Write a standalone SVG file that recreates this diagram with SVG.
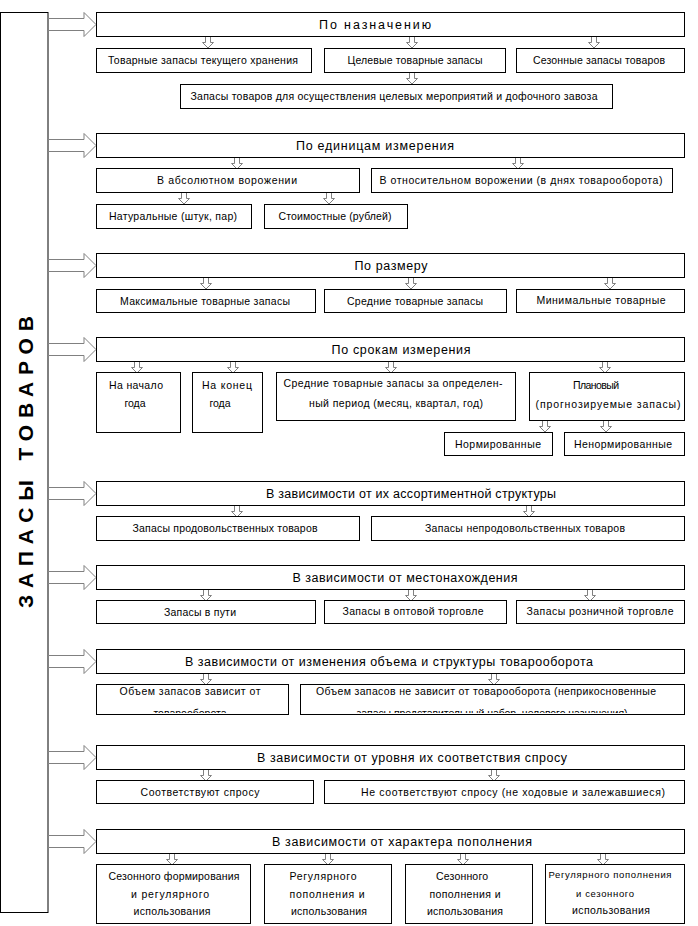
<svg xmlns="http://www.w3.org/2000/svg" width="698" height="926" viewBox="0 0 698 926">
<style>
.b{fill:#fff;stroke:#000;stroke-width:1}
.ar{fill:#fff;stroke:#808080;stroke-width:1}
text{font-family:"Liberation Sans",Arial,sans-serif;fill:#000;text-anchor:middle}
.h{font-size:12.5px}
.s{font-size:10.5px}
.t{font-size:9.5px}
.v{font-size:21px;font-weight:bold}
</style>
<defs>
<path id="big" d="M48.5,-6 H84 V-12 L96,0 L84,12 V6 H48.5 Z"/>
<path id="sm" d="M-2.5,0 V6 H-5.5 L0,11.5 L5.5,6 H2.5 V0 Z"/>
<clipPath id="c7a"><rect x="97" y="685" width="195" height="28"/></clipPath>
<clipPath id="c7b"><rect x="301" y="685" width="383" height="28"/></clipPath>
</defs>
<rect width="698" height="926" fill="#fff"/>

<g id="root">
<rect class="b" x="0.5" y="12.5" width="47.5" height="900"/>
<text class="v" transform="translate(33,462) rotate(-90)" textLength="292" lengthAdjust="spacing">ЗАПАСЫ ТОВАРОВ</text>
</g>

<g id="connectors">
<use href="#big" class="ar" transform="translate(0,24.5)"/>
<use href="#big" class="ar" transform="translate(0,145.5)"/>
<use href="#big" class="ar" transform="translate(0,265.5)"/>
<use href="#big" class="ar" transform="translate(0,349.5)"/>
<use href="#big" class="ar" transform="translate(0,493.5)"/>
<use href="#big" class="ar" transform="translate(0,577.5)"/>
<use href="#big" class="ar" transform="translate(0,661.5)"/>
<use href="#big" class="ar" transform="translate(0,757.5)"/>
<use href="#big" class="ar" transform="translate(0,841.5)"/>

<use href="#sm" class="ar" transform="translate(208,36.5)"/>
<use href="#sm" class="ar" transform="translate(412,36.5)"/>
<use href="#sm" class="ar" transform="translate(594,36.5)"/>
<use href="#sm" class="ar" transform="translate(412,72.5)"/>

<use href="#sm" class="ar" transform="translate(237,157.5)"/>
<use href="#sm" class="ar" transform="translate(518,157.5)"/>
<use href="#sm" class="ar" transform="translate(184,192.5)"/>
<use href="#sm" class="ar" transform="translate(329,192.5)"/>

<use href="#sm" class="ar" transform="translate(206,277.5)"/>
<use href="#sm" class="ar" transform="translate(411,277.5)"/>
<use href="#sm" class="ar" transform="translate(610,277.5)"/>

<use href="#sm" class="ar" transform="translate(137,361.5)"/>
<use href="#sm" class="ar" transform="translate(233,361.5)"/>
<use href="#sm" class="ar" transform="translate(391,361.5)"/>
<use href="#sm" class="ar" transform="translate(605,361.5)"/>
<use href="#sm" class="ar" transform="translate(545,420.5)"/>
<use href="#sm" class="ar" transform="translate(606,420.5)"/>

<use href="#sm" class="ar" transform="translate(237,505.5)"/>
<use href="#sm" class="ar" transform="translate(529,505.5)"/>

<use href="#sm" class="ar" transform="translate(206,589.5)"/>
<use href="#sm" class="ar" transform="translate(411,589.5)"/>
<use href="#sm" class="ar" transform="translate(590,589.5)"/>

<use href="#sm" class="ar" transform="translate(206,673.5)"/>
<use href="#sm" class="ar" transform="translate(494,673.5)"/>

<use href="#sm" class="ar" transform="translate(206,769.5)"/>
<use href="#sm" class="ar" transform="translate(494,769.5)"/>

<use href="#sm" class="ar" transform="translate(172,853.5)"/>
<use href="#sm" class="ar" transform="translate(328,853.5)"/>
<use href="#sm" class="ar" transform="translate(463,853.5)"/>
<use href="#sm" class="ar" transform="translate(603,853.5)"/>
</g>

<!-- Section 1 -->
<g id="h1"><rect class="b" x="96.5" y="12.5" width="588" height="24"/><text class="h" x="375" y="29" textLength="112" lengthAdjust="spacing">По назначению</text></g>
<g id="n1a"><rect class="b" x="96.5" y="48.5" width="215" height="24"/><text class="s" x="203" y="64" textLength="190" lengthAdjust="spacing">Товарные запасы текущего хранения</text></g>
<g id="n1b"><rect class="b" x="324.5" y="48.5" width="181" height="24"/><text class="s" x="415" y="64" textLength="135" lengthAdjust="spacing">Целевые товарные запасы</text></g>
<g id="n1c"><rect class="b" x="516.5" y="48.5" width="168" height="24"/><text class="s" x="599" y="64" textLength="132" lengthAdjust="spacing">Сезонные запасы товаров</text></g>
<g id="n1d"><rect class="b" x="180.5" y="84.5" width="432" height="24"/><text class="s" x="394" y="100" textLength="407" lengthAdjust="spacing">Запасы товаров для осуществления целевых мероприятий и дофочного завоза</text></g>

<!-- Section 2 -->
<g id="h2"><rect class="b" x="96.5" y="133.5" width="588" height="24"/><text class="h" x="375" y="150" textLength="158" lengthAdjust="spacing">По единицам измерения</text></g>
<g id="n2a"><rect class="b" x="96.5" y="168.5" width="263" height="24"/><text class="s" x="227" y="184" textLength="140" lengthAdjust="spacing">В абсолютном ворожении</text></g>
<g id="n2b"><rect class="b" x="371.5" y="168.5" width="301" height="24"/><text class="s" x="521" y="184" textLength="283" lengthAdjust="spacing">В относительном ворожении (в днях товарооборота)</text></g>
<g id="n2c"><rect class="b" x="96.5" y="204.5" width="155" height="24"/><text class="s" x="173" y="220" textLength="128" lengthAdjust="spacing">Натуральные (штук, пар)</text></g>
<g id="n2d"><rect class="b" x="264.5" y="204.5" width="143" height="24"/><text class="s" x="335" y="220" textLength="113" lengthAdjust="spacing">Стоимостные (рублей)</text></g>

<!-- Section 3 -->
<g id="h3"><rect class="b" x="96.5" y="253.5" width="588" height="24"/><text class="h" x="391" y="270" textLength="73" lengthAdjust="spacing">По размеру</text></g>
<g id="n3a"><rect class="b" x="96.5" y="289.5" width="219" height="23"/><text class="s" x="205" y="305" textLength="170" lengthAdjust="spacing">Максимальные товарные запасы</text></g>
<g id="n3b"><rect class="b" x="324.5" y="289.5" width="182" height="23"/><text class="s" x="415" y="305" textLength="136" lengthAdjust="spacing">Средние товарные запасы</text></g>
<g id="n3c"><rect class="b" x="516.5" y="289.5" width="168" height="23"/><text class="s" x="601" y="304" textLength="129" lengthAdjust="spacing">Минимальные товарные</text></g>

<!-- Section 4 -->
<g id="h4"><rect class="b" x="96.5" y="337.5" width="588" height="24"/><text class="h" x="401" y="354" textLength="139" lengthAdjust="spacing">По срокам измерения</text></g>
<g id="n4a"><rect class="b" x="96.5" y="372.5" width="84" height="60"/><text class="s" x="136" y="389" textLength="54" lengthAdjust="spacing">На начало</text><text class="s" x="135" y="407">года</text></g>
<g id="n4b"><rect class="b" x="192.5" y="372.5" width="70" height="60"/><text class="s" x="227" y="389" textLength="50" lengthAdjust="spacing">На конец</text><text class="s" x="220" y="407">года</text></g>
<g id="n4c"><rect class="b" x="276.5" y="372.5" width="239" height="48"/><text class="s" x="393" y="387" textLength="219" lengthAdjust="spacing">Средние товарные запасы за определен-</text><text class="s" x="396" y="407" textLength="174" lengthAdjust="spacing">ный период (месяц, квартал, год)</text></g>
<g id="n4d"><rect class="b" x="529.5" y="372.5" width="155" height="48"/><text class="s" x="596" y="389" textLength="46" lengthAdjust="spacing">Плановый</text><text class="s" x="608" y="408" textLength="145" lengthAdjust="spacing">(прогнозируемые запасы)</text></g>
<g id="n4e"><rect class="b" x="444.5" y="432.5" width="108" height="23"/><text class="s" x="498" y="448" textLength="86" lengthAdjust="spacing">Нормированные</text></g>
<g id="n4f"><rect class="b" x="564.5" y="432.5" width="120" height="23"/><text class="s" x="623" y="448" textLength="98" lengthAdjust="spacing">Ненормированные</text></g>

<!-- Section 5 -->
<g id="h5"><rect class="b" x="96.5" y="481.5" width="588" height="24"/><text class="h" x="411" y="498" textLength="290" lengthAdjust="spacing">В зависимости от их ассортиментной структуры</text></g>
<g id="n5a"><rect class="b" x="96.5" y="516.5" width="263" height="24"/><text class="s" x="225" y="532" textLength="185" lengthAdjust="spacing">Запасы продовольственных товаров</text></g>
<g id="n5b"><rect class="b" x="371.5" y="516.5" width="313" height="24"/><text class="s" x="525" y="532" textLength="200" lengthAdjust="spacing">Запасы непродовольственных товаров</text></g>

<!-- Section 6 -->
<g id="h6"><rect class="b" x="96.5" y="565.5" width="588" height="24"/><text class="h" x="405" y="582" textLength="225" lengthAdjust="spacing">В зависимости от местонахождения</text></g>
<g id="n6a"><rect class="b" x="96.5" y="600.5" width="219" height="23"/><text class="s" x="200" y="616" textLength="72" lengthAdjust="spacing">Запасы в пути</text></g>
<g id="n6b"><rect class="b" x="324.5" y="600.5" width="182" height="23"/><text class="s" x="413" y="615" textLength="141" lengthAdjust="spacing">Запасы в оптовой торговле</text></g>
<g id="n6c"><rect class="b" x="516.5" y="600.5" width="168" height="23"/><text class="s" x="600" y="615" textLength="147" lengthAdjust="spacing">Запасы розничной торговле</text></g>

<!-- Section 7 -->
<g id="h7"><rect class="b" x="96.5" y="649.5" width="588" height="24"/><text class="h" x="389" y="666" textLength="408" lengthAdjust="spacing">В зависимости от изменения объема и структуры товарооборота</text></g>
<g id="n7a"><rect class="b" x="96.5" y="684.5" width="192" height="30"/><text class="s" x="190" y="695" textLength="141" lengthAdjust="spacing">Объем запасов зависит от</text><text class="s" x="190" y="717" clip-path="url(#c7a)">товарооборота</text></g>
<g id="n7b"><rect class="b" x="300.5" y="684.5" width="384" height="30"/><text class="s" x="486" y="695" textLength="340" lengthAdjust="spacing">Объем запасов не зависит от товарооборота (неприкосновенные</text><text class="s" x="492" y="717" textLength="271" lengthAdjust="spacing" clip-path="url(#c7b)">запасы представительный набор, целевого назначения)</text></g>

<!-- Section 8 -->
<g id="h8"><rect class="b" x="96.5" y="745.5" width="588" height="24"/><text class="h" x="412" y="762" textLength="310" lengthAdjust="spacing">В зависимости от уровня их соответствия спросу</text></g>
<g id="n8a"><rect class="b" x="96.5" y="780.5" width="217" height="23"/><text class="s" x="200" y="796" textLength="119" lengthAdjust="spacing">Соответствуют спросу</text></g>
<g id="n8b"><rect class="b" x="324.5" y="780.5" width="360" height="23"/><text class="s" x="513" y="796" textLength="304" lengthAdjust="spacing">Не соответствуют спросу (не ходовые и залежавшиеся)</text></g>

<!-- Section 9 -->
<g id="h9"><rect class="b" x="96.5" y="829.5" width="588" height="24"/><text class="h" x="402" y="846" textLength="260" lengthAdjust="spacing">В зависимости от характера пополнения</text></g>
<g id="n9a"><rect class="b" x="96.5" y="864.5" width="154" height="59"/><text class="s" x="174" y="880" textLength="131" lengthAdjust="spacing">Сезонного формирования</text><text class="s" x="170" y="898" textLength="78" lengthAdjust="spacing">и регулярного</text><text class="s" x="172" y="915" textLength="77" lengthAdjust="spacing">использования</text></g>
<g id="n9b"><rect class="b" x="264.5" y="864.5" width="127" height="59"/><text class="s" x="323" y="880" textLength="67" lengthAdjust="spacing">Регулярного</text><text class="s" x="327" y="898" textLength="75" lengthAdjust="spacing">пополнения и</text><text class="s" x="329" y="915" textLength="76" lengthAdjust="spacing">использования</text></g>
<g id="n9c"><rect class="b" x="405.5" y="864.5" width="127" height="59"/><text class="s" x="462" y="880" textLength="52" lengthAdjust="spacing">Сезонного</text><text class="s" x="465" y="898" textLength="71" lengthAdjust="spacing">пополнения и</text><text class="s" x="465" y="915" textLength="76" lengthAdjust="spacing">использования</text></g>
<g id="n9d"><rect class="b" x="545.5" y="864.5" width="139" height="59"/><text class="t" x="610" y="878" textLength="123" lengthAdjust="spacing">Регулярного пополнения</text><text class="t" x="605" y="897" textLength="58" lengthAdjust="spacing">и сезонного</text><text class="s" x="611" y="914" textLength="78" lengthAdjust="spacing">использования</text></g>
</svg>
